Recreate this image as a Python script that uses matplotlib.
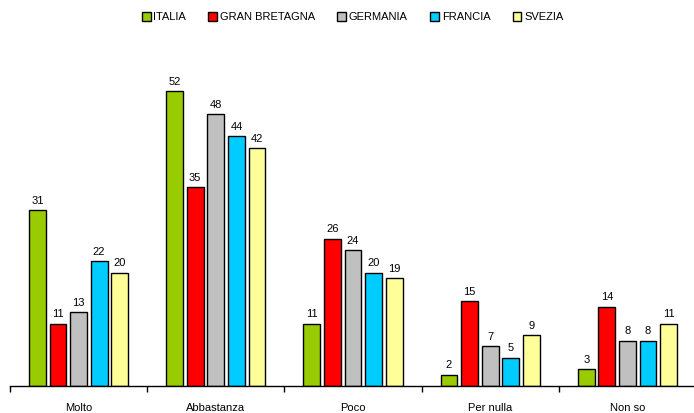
import matplotlib.pyplot as plt
import numpy as np

plt.rcParams['font.family'] = ['Liberation Sans', 'DejaVu Sans']

categories = ["Molto", "Abbastanza", "Poco", "Per nulla", "Non so"]
series_names = ["ITALIA", "GRAN BRETAGNA", "GERMANIA", "FRANCIA", "SVEZIA"]
italia = [31, 52, 11, 2, 3]
gran_bretagna = [11, 35, 26, 15, 14]
germania = [13, 48, 24, 7, 8]
francia = [22, 44, 20, 5, 8]
svezia = [20, 42, 19, 9, 11]
colors = ["#99CC00", "#FF0000", "#C0C0C0", "#00CCFF", "#FFFF99"]

values = [italia, gran_bretagna, germania, francia, svezia]

fig = plt.figure(figsize=(6.94, 4.13), dpi=100)
ax = fig.add_axes([10 / 694, 27 / 413, 686 / 694, 346 / 413])

x = np.arange(len(categories))
step = 0.15
width = 0.122
for i, (name, vals, col) in enumerate(zip(series_names, values, colors)):
    pos = x + (i - 2) * step
    bars = ax.bar(pos, vals, width, color=col, edgecolor="black", linewidth=1.0, label=name)
    for b, v in zip(bars, vals):
        ax.annotate(str(v), (b.get_x() + b.get_width() / 2, v), xytext=(0, 3),
                    textcoords="offset points", ha="center", va="bottom", fontsize=8)

ax.set_xlim(-0.5, 4.5)
ax.set_ylim(0, 61)
for s in ["top", "right", "left"]:
    ax.spines[s].set_visible(False)
ax.spines["bottom"].set_linewidth(1.0)
ax.set_yticks([])
ax.set_xticks(np.arange(-0.5, 5, 1.0))
ax.set_xticklabels([])
ax.tick_params(axis="x", which="major", direction="out", length=4, width=1)
ax.set_xticks(x, minor=True)
ax.set_xticklabels(categories, minor=True, fontsize=8)
ax.tick_params(axis="x", which="minor", length=0, pad=12)

fig.legend(loc="upper center", bbox_to_anchor=(0.508, 0.995), ncol=5, frameon=False,
           fontsize=8, handlelength=0.8, handleheight=0.8, handletextpad=0.25,
           columnspacing=2.0)

plt.savefig("out.png", dpi=100)
